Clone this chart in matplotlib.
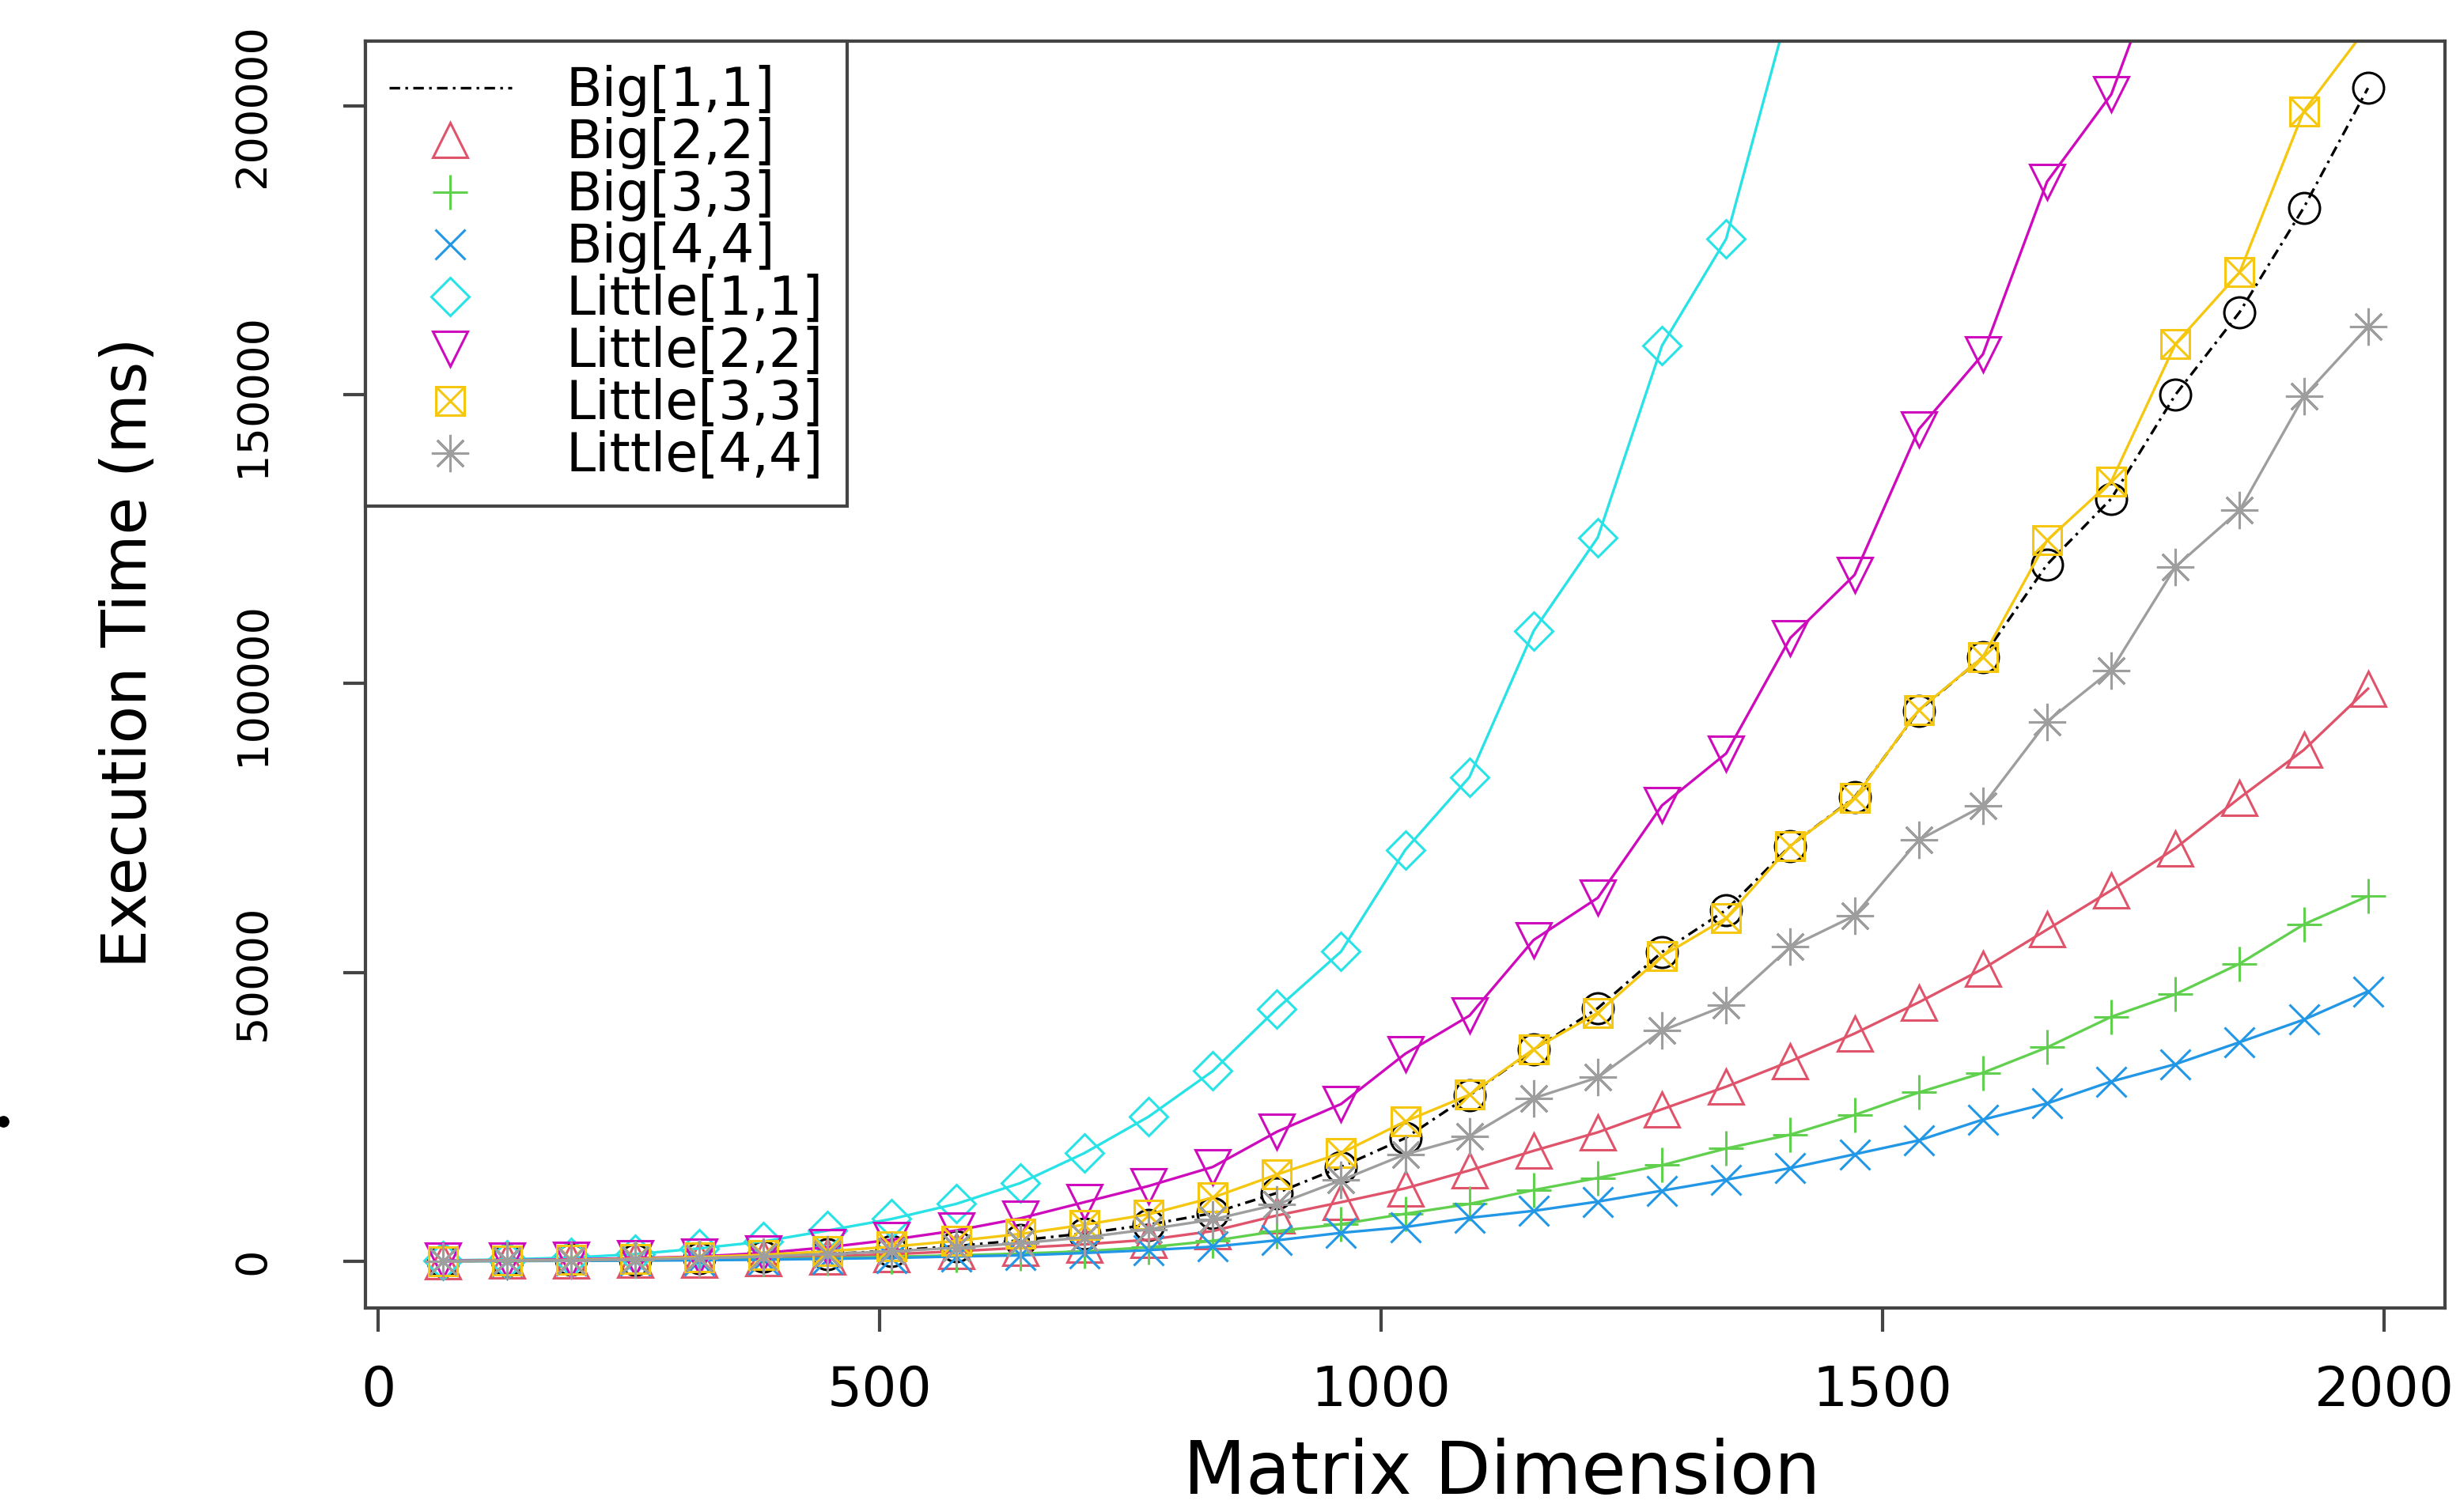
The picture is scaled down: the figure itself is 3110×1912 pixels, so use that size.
import numpy as np
import matplotlib
matplotlib.use("Agg")
import matplotlib.pyplot as plt
from matplotlib.lines import Line2D

plt.rcParams['font.family'] = ['DejaVu Sans']

# matrix dimension (x axis)
dims = [64, 128, 192, 256, 320, 384, 448, 512, 576, 640, 704, 768, 832, 896, 960, 1024,
        1088, 1152, 1216, 1280, 1344, 1408, 1472, 1536, 1600, 1664, 1728, 1792, 1856, 1920, 1984]

# execution time in ms (None = off the top of the chart)
big11 = [0, 100, 200, 300, 500, 800, 1200, 1800, 2600, 3600, 4800, 6300, 8300, 11800, 16300, 21300,
         28700, 36600, 43800, 53500, 60800, 71900, 80300, 95300, 104600, 120600, 132000, 150000, 164300, 182400, 203100]
big22 = [0, 50, 100, 200, 300, 500, 800, 1200, 1700, 2300, 2900, 3700, 5200, 7900, 10200, 12600,
         15700, 19100, 22300, 26300, 30200, 34600, 39400, 44800, 50600, 57400, 64200, 71500, 80200, 88500, 99100]
big33 = [0, 30, 70, 130, 200, 350, 500, 750, 1000, 1300, 1700, 2400, 3500, 5200, 6400, 8200,
         9900, 12300, 14400, 16600, 19500, 21900, 25300, 29200, 32600, 37000, 42300, 46200, 51500, 58300, 63200]
big44 = [0, 20, 50, 100, 150, 250, 400, 550, 800, 1000, 1400, 1900, 2500, 3600, 4900, 5900,
         7500, 8700, 10300, 12200, 14100, 16100, 18500, 20900, 24500, 27300, 31100, 34100, 37900, 41800, 46700]
little11 = [100, 300, 600, 1200, 2200, 3400, 5300, 7300, 9900, 13500, 18700, 25000, 32900, 43700, 53600, 71200,
            83800, 109100, 125300, 158500, 177000, 218000, None, None, None, None, None, None, None, None, None]
little22 = [50, 150, 300, 500, 800, 1400, 2400, 3700, 5300, 7400, 10200, 13000, 16300, 22400, 27200, 35900,
            42500, 55600, 62900, 78900, 87900, 107900, 118800, 144000, 157000, 186900, 202000, 232000, None, None, None]
little33 = [0, 100, 200, 400, 700, 1100, 1700, 2500, 3500, 4700, 6300, 8100, 11000, 15000, 18700, 24200,
            28800, 36700, 43000, 52800, 59400, 71900, 80200, 95400, 104600, 124800, 135000, 158800, 171200, 199100, 213800]
little44 = [0, 80, 150, 300, 500, 800, 1200, 1700, 2300, 3100, 4100, 5500, 7200, 9800, 14000, 18500,
            21600, 28200, 31800, 39900, 44300, 54400, 59800, 72900, 78800, 93400, 102300, 120200, 130000, 149700, 161800]

labels = ['Big[1,1]', 'Big[2,2]', 'Big[3,3]', 'Big[4,4]',
          'Little[1,1]', 'Little[2,2]', 'Little[3,3]', 'Little[4,4]']
colors = ['black', '#DF536B', '#61D04F', '#2297E6', '#28E2E5', '#CD0BBC', '#F5C710', '#9E9E9E']

xticks = [0, 500, 1000, 1500, 2000]
yticks = [0, 50000, 100000, 150000, 200000]

dashdot = (0, (4, 2, 1, 2))
axcol = '#444444'
lw = 1.2

# R pch 1..8 look-alikes: (marker, size, hollow)
mk = [('o', 14, True), ('^', 15.5, True), ('+', 16, False), ('x', 13.5, False),
      ('D', 12, True), ('v', 15.5, True), ('s', 13, True), ((8, 2, 0), 17, False)]

fig = plt.figure(figsize=(15.55, 9.56), dpi=200)
ax = fig.add_axes([0.1486, 0.1349, 0.8453, 0.8379])

def arr(v):
    return np.array(v, dtype=float)

def style(i):
    m, s, hollow = mk[i]
    kw = dict(color=colors[i], marker=m, ms=s, mew=1.1)
    if hollow:
        kw['mfc'] = 'none'
    return kw

ax.plot(dims, arr(big11), lw=lw, ls=dashdot, **style(0))
ax.plot(dims, arr(big22), lw=lw, **style(1))
ax.plot(dims, arr(big33), lw=lw, **style(2))
ax.plot(dims, arr(big44), lw=lw, **style(3))
ax.plot(dims, arr(little11), lw=lw, **style(4))
ax.plot(dims, arr(little22), lw=lw, **style(5))
ax.plot(dims, arr(little33), lw=lw, **style(6))
ax.plot(dims, arr(little33), ls='none', color=colors[6], marker='x', ms=13, mew=1.1)
ax.plot(dims, arr(little44), lw=lw, **style(7))

# R style 4% padding around the data range
xpad = 0.04 * (dims[-1] - dims[0])
ax.set_xlim(dims[0] - xpad, dims[-1] + xpad)
ylo, yhi = min(big11), max(big11)
ypad = 0.04 * (yhi - ylo)
ax.set_ylim(ylo - ypad, yhi + ypad)

ax.set_xticks(xticks)
ax.set_yticks(yticks)
ax.set_yticklabels([str(t) for t in yticks], rotation=90, va='center')
ax.tick_params(axis='x', direction='out', length=10.8, width=1.5, pad=14.8, labelsize=25, color=axcol)
ax.tick_params(axis='y', direction='out', length=10, width=1.5, pad=32, labelsize=19.5, color=axcol)
for s in ax.spines.values():
    s.set_color(axcol)
    s.set_linewidth(1.5)

fig.text(0.6106, 0.012, 'Matrix Dimension', fontsize=33, ha='center', va='baseline')
fig.text(0.0595, 0.5685, 'Execution Time (ms)', fontsize=28, rotation=90,
         rotation_mode='anchor', ha='center', va='baseline')

# legend: first entry is the line only, the rest markers only
handles = [Line2D([], [], color=colors[0], lw=lw, ls=dashdot)]
for i in range(1, 8):
    h = Line2D([], [], ls='none', **style(i))
    if i == 6:
        h = (h, Line2D([], [], ls='none', color=colors[6], marker='x', ms=13, mew=1.1))
    handles.append(h)
leg = ax.legend(handles, labels, loc='upper left', bbox_to_anchor=(0, 1), borderaxespad=0,
                fancybox=False, framealpha=1, edgecolor=axcol, fontsize=24,
                handlelength=2.32, handletextpad=1.03, labelspacing=0.0, borderpad=0.45)
leg.get_frame().set_linewidth(1.5)

# stray dot at the left edge of the picture
fig.add_artist(Line2D([4 / 3110], [1 - 1418 / 1912], marker='o', ms=4.3, color='black',
                      transform=fig.transFigure))

plt.savefig('out.png', dpi=200)
